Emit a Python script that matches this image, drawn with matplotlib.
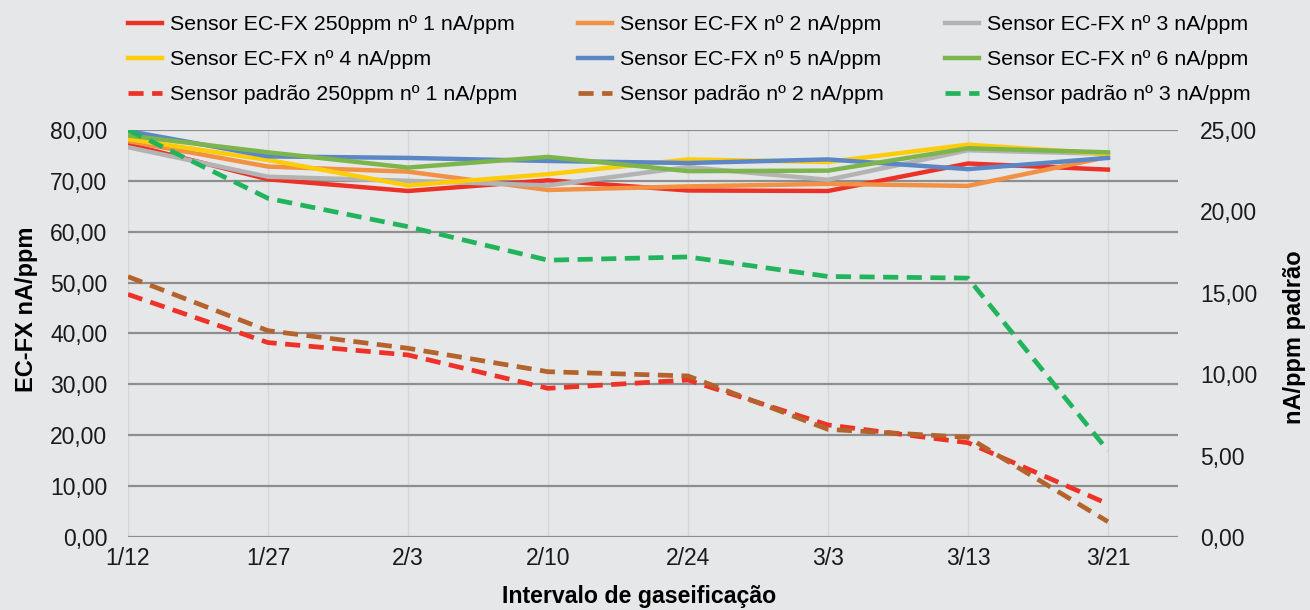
import matplotlib.pyplot as plt
from matplotlib.ticker import FuncFormatter

plt.rcParams['font.family'] = ['Liberation Sans', 'DejaVu Sans']

datas = ["1/12", "1/27", "2/3", "2/10", "2/24", "3/3", "3/13", "3/21"]

# sensores EC-FX (eixo esquerdo)
ecfx_1 = [77.2, 70.3, 68.0, 70.1, 68.1, 68.0, 73.4, 72.2]
ecfx_2 = [77.8, 72.8, 71.8, 68.2, 68.9, 69.4, 69.0, 74.7]
ecfx_3 = [76.6, 70.8, 70.0, 69.1, 72.7, 70.2, 76.0, 75.3]
ecfx_4 = [78.2, 74.1, 69.1, 71.3, 74.2, 73.7, 77.1, 75.3]
ecfx_5 = [79.8, 74.8, 74.5, 73.9, 73.5, 74.2, 72.3, 74.5]
ecfx_6 = [78.9, 75.6, 72.6, 74.7, 71.9, 72.0, 76.4, 75.6]

# sensores padrão (eixo direito)
padrao_1 = [14.9, 11.94, 11.18, 9.13, 9.64, 6.88, 5.79, 2.03]
padrao_2 = [15.99, 12.67, 11.59, 10.15, 9.89, 6.61, 6.12, 0.94]
padrao_3 = [25.0, 20.8, 19.06, 17.0, 17.2, 16.0, 15.9, 5.3]

bg = "#e6e7e8"
fig = plt.figure(figsize=(13.1, 6.1), dpi=100, facecolor=bg)
ax = fig.add_axes([0.0977, 0.1197, 0.8015, 0.6673], facecolor=bg)
ax2 = ax.twinx()

x = list(range(len(datas)))
lw = 3.2
h1, = ax.plot(x, ecfx_1, color="#ec3227", lw=lw, label="Sensor EC-FX 250ppm nº 1 nA/ppm")
h2, = ax.plot(x, ecfx_2, color="#f29043", lw=lw, label="Sensor EC-FX nº 2 nA/ppm")
h3, = ax.plot(x, ecfx_3, color="#b3b3b3", lw=lw, label="Sensor EC-FX nº 3 nA/ppm")
h4, = ax.plot(x, ecfx_4, color="#ffcc0a", lw=lw, label="Sensor EC-FX nº 4 nA/ppm")
h5, = ax.plot(x, ecfx_5, color="#5b87c7", lw=lw, label="Sensor EC-FX nº 5 nA/ppm")
h6, = ax.plot(x, ecfx_6, color="#7cb54c", lw=lw, label="Sensor EC-FX nº 6 nA/ppm")

dash = (3.2, 1.8)
h7, = ax2.plot(x, padrao_1, color="#ee3227", lw=3.4, dashes=dash, label="Sensor padrão 250ppm nº 1 nA/ppm")
h8, = ax2.plot(x, padrao_2, color="#b5632c", lw=3.4, dashes=dash, label="Sensor padrão nº 2 nA/ppm")
h9, = ax2.plot(x, padrao_3, color="#22b45c", lw=3.4, dashes=dash, label="Sensor padrão nº 3 nA/ppm")

ax.set_xlim(0, 7.5)
ax.set_ylim(0, 80)
ax2.set_ylim(0, 25)
ax.set_yticks(range(0, 81, 10))
ax2.set_yticks([0, 5, 10, 15, 20, 25])
virgula = FuncFormatter(lambda v, p: f"{v:.2f}".replace(".", ","))
ax.yaxis.set_major_formatter(virgula)
ax2.yaxis.set_major_formatter(virgula)
ax.set_xticks(x)
ax.set_xticklabels(datas)

ax.grid(axis="y", color="#8e8e8e", lw=1.6)
ax.grid(axis="x", color="#d6d6d6", lw=1)
ax.set_axisbelow(True)
for a in (ax, ax2):
    for s in a.spines.values():
        s.set_visible(False)
    a.tick_params(length=0, labelsize=16.5, colors="#1a1a1a")
ax.tick_params(axis="y", pad=15)
ax2.tick_params(axis="y", pad=16)
ax.tick_params(axis="x", pad=7)

ax.set_ylabel("EC-FX nA/ppm", fontsize=17, fontweight="bold")
ax.yaxis.set_label_coords(-0.086, 0.56)
ax2.set_ylabel("nA/ppm padrão", fontsize=17, fontweight="bold")
ax2.yaxis.set_label_coords(1.100, 0.49)
ax.set_xlabel("Intervalo de gaseificação", fontsize=16.7, fontweight="bold")
ax.xaxis.set_label_coords(0.487, -0.119)

# legenda: três colunas independentes
colunas = [[h1, h4, h7], [h2, h5, h8], [h3, h6, h9]]
x_colunas = [128, 578, 945]
for hs, xc in zip(colunas, x_colunas):
    fig.legend(handles=hs, labels=[h.get_label() for h in hs],
               loc="upper left", bbox_to_anchor=(xc / 1310, 0.975),
               frameon=False, fontsize=15.4, handlelength=1.6,
               handletextpad=0.35, labelspacing=0.75,
               borderpad=0, borderaxespad=0)

fig.savefig("out.png", dpi=100, facecolor=bg)
